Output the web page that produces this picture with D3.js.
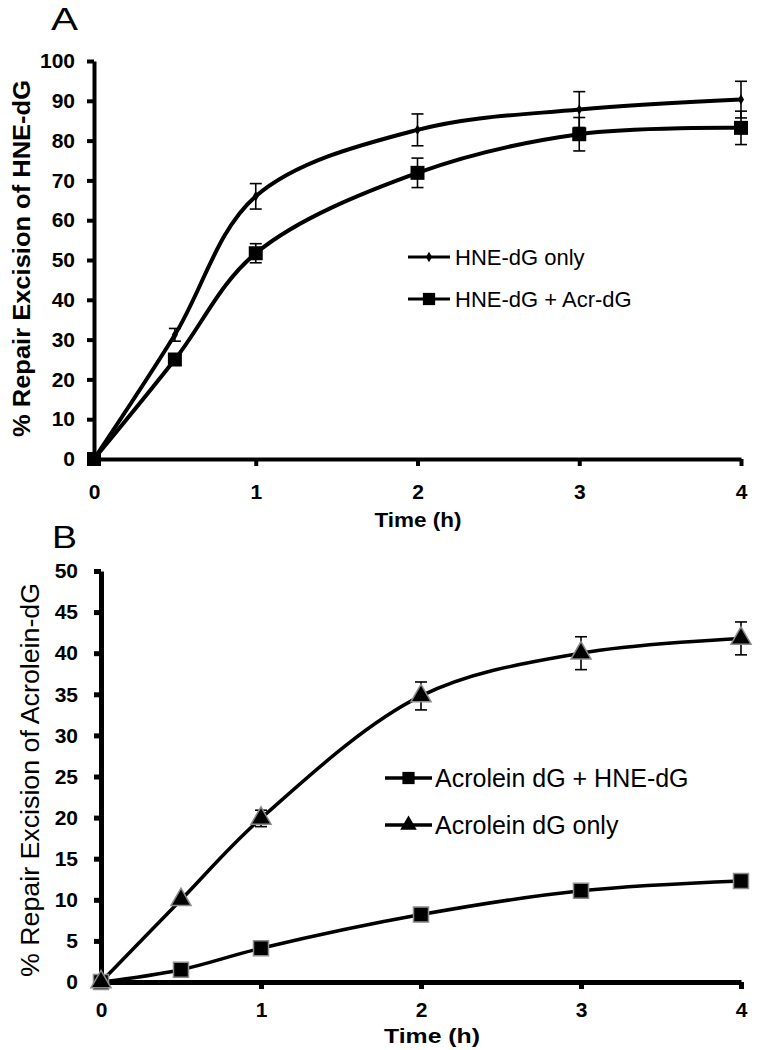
<!DOCTYPE html>
<html><head><meta charset="utf-8">
<script src="https://cdn.jsdelivr.net/npm/d3@7"></script>
<style>
body{margin:0;background:#fff;}
text{font-family:"Liberation Sans",Arial,Helvetica,sans-serif;}
</style></head>
<body>
<svg id="c" width="760" height="1050"></svg>
<script>
// ---------- data ----------
const time = [0, 0.5, 1, 2, 3, 4];
const xTicks = [0, 1, 2, 3, 4];

// Panel A
const hneOnly = [0, 31.2, 66, 82.7, 87.8, 90.3];
const hneOnlyErr = [0, 1.6, 3.2, 4.0, 4.5, 4.6];
const hneAcr = [0, 25, 51.7, 71.9, 81.6, 83.2];
const hneAcrErr = [0, 0.6, 2.4, 3.7, 4.2, 4.2];
const yTicksA = [0, 10, 20, 30, 40, 50, 60, 70, 80, 90, 100];

// Panel B
const acrHne = [0, 1.5, 4.1, 8.2, 11.1, 12.3];
const acrHneErr = [0, 0, 0, 0, 0, 0];
const acrOnly = [0, 10, 19.9, 34.8, 40, 41.8];
const acrOnlyErr = [0, 0, 1.0, 1.7, 2.0, 2.0];
const yTicksB = [0, 5, 10, 15, 20, 25, 30, 35, 40, 45, 50];

const labelsA = ["HNE-dG only", "HNE-dG + Acr-dG"];
const labelsB = ["Acrolein dG + HNE-dG", "Acrolein dG only"];

// ---------- drawing ----------
const svg = d3.select("#c");
const curve = d3.curveCatmullRom.alpha(0.5);
const fmt = d3.format("d");

function drawAxes(g, x, y, yTicks, o) {
  const ya = d3.axisLeft(y).tickValues(yTicks).tickFormat(fmt).tickSize(7).tickSizeOuter(0).tickPadding(o.yPad);
  const xa = d3.axisBottom(x).tickValues(xTicks).tickFormat(fmt).tickSize(7).tickSizeOuter(0).tickPadding(o.xPad);
  const gy = g.append("g").attr("transform", `translate(${x(0)},0)`).call(ya);
  const gx = g.append("g").attr("transform", `translate(0,${y(0)})`).call(xa);
  [gy, gx].forEach(a => {
    a.attr("font-size", o.fs);
    a.selectAll("path.domain").attr("stroke", "#000").attr("stroke-width", o.sw);
    a.selectAll(".tick line").attr("stroke", "#000").attr("stroke-width", o.sw);
    a.selectAll(".tick text").attr("fill", "#000").attr("font-size", o.fs)
      .attr("font-weight", "bold").style("font-family", '"Liberation Sans",Arial,sans-serif');
  });
}

function errBars(g, x, y, vals, errs, cap) {
  const d = time.map((t, i) => ({t, v: vals[i], e: errs[i]})).filter(p => p.e > 0);
  const eg = g.append("g").attr("stroke", "#000").attr("stroke-width", 1.6).attr("fill", "none");
  eg.selectAll("line.v").data(d).join("line")
    .attr("x1", p => x(p.t)).attr("x2", p => x(p.t))
    .attr("y1", p => y(p.v + p.e)).attr("y2", p => y(p.v - p.e));
  eg.selectAll("line.t").data(d).join("line")
    .attr("x1", p => x(p.t) - cap).attr("x2", p => x(p.t) + cap)
    .attr("y1", p => y(p.v + p.e)).attr("y2", p => y(p.v + p.e));
  eg.selectAll("line.b").data(d).join("line")
    .attr("x1", p => x(p.t) - cap).attr("x2", p => x(p.t) + cap)
    .attr("y1", p => y(p.v - p.e)).attr("y2", p => y(p.v - p.e));
}

function series(g, x, y, vals, lw) {
  const line = d3.line().x((d, i) => x(time[i])).y(d => y(d)).curve(curve);
  g.append("path").datum(vals).attr("d", line).attr("fill", "none")
    .attr("stroke", "#000").attr("stroke-width", lw).attr("stroke-linejoin", "round");
}

function markers(g, x, y, vals, type, size, stroke) {
  g.append("g").selectAll("path").data(vals).join("path")
    .attr("transform", (d, i) => `translate(${x(time[i])},${y(d)})`)
    .attr("d", d3.symbol().type(type).size(size))
    .attr("fill", "#000").attr("stroke", stroke || "none").attr("stroke-width", stroke ? 1.5 : 0);
}

function legendRow(g, x1, x2, yy, type, size, stroke, label, fs, tx, lw) {
  g.append("line").attr("x1", x1).attr("x2", x2).attr("y1", yy).attr("y2", yy)
    .attr("stroke", "#000").attr("stroke-width", lw);
  g.append("path").attr("transform", `translate(${(x1 + x2) / 2},${yy})`)
    .attr("d", d3.symbol().type(type).size(size))
    .attr("fill", "#000").attr("stroke", stroke || "none").attr("stroke-width", stroke ? 1.5 : 0);
  g.append("text").attr("x", tx).attr("y", yy).attr("dy", "0.36em")
    .attr("font-size", fs).attr("fill", "#000").text(label);
}

// ---------- Panel A ----------
{
  const g = svg.append("g");
  const x = d3.scaleLinear().domain([0, 4]).range([94, 741]);
  const y = d3.scaleLinear().domain([0, 100]).range([459, 61]);

  g.append("text").attr("x", 51).attr("y", 30).attr("font-size", 32).attr("fill", "#000")
    .attr("textLength", 27).attr("lengthAdjust", "spacingAndGlyphs").text("A");

  series(g, x, y, hneOnly, 4);
  series(g, x, y, hneAcr, 4);
  errBars(g, x, y, hneOnly, hneOnlyErr, 6);
  errBars(g, x, y, hneAcr, hneAcrErr, 6);
  drawAxes(g, x, y, yTicksA, {yPad: 12, xPad: 18, sw: 4, fs: 21});
  markers(g, x, y, hneOnly, d3.symbolDiamond, 32);
  markers(g, x, y, hneAcr, d3.symbolSquare, 196);

  g.append("text").attr("transform", `translate(30,${(80 + 437) / 2}) rotate(-90)`)
    .attr("text-anchor", "middle").attr("font-size", 23).attr("font-weight", "bold")
    .attr("textLength", 357).attr("lengthAdjust", "spacingAndGlyphs")
    .text("% Repair Excision of HNE-dG");
  g.append("text").attr("x", 418).attr("y", 527).attr("text-anchor", "middle")
    .attr("font-size", 21).attr("font-weight", "bold")
    .attr("textLength", 87).attr("lengthAdjust", "spacingAndGlyphs").text("Time (h)");

  legendRow(g, 408, 450, 257, d3.symbolDiamond, 32, null, labelsA[0], 22, 455, 3);
  legendRow(g, 408, 450, 299, d3.symbolSquare, 150, null, labelsA[1], 22, 455, 3);
}

// ---------- Panel B ----------
{
  const g = svg.append("g");
  const x = d3.scaleLinear().domain([0, 4]).range([101, 741]);
  const y = d3.scaleLinear().domain([0, 50]).range([982, 571]);

  g.append("text").attr("x", 52).attr("y", 548).attr("font-size", 32).attr("fill", "#000")
    .attr("textLength", 25).attr("lengthAdjust", "spacingAndGlyphs").text("B");

  series(g, x, y, acrHne, 3.5);
  series(g, x, y, acrOnly, 3.5);
  errBars(g, x, y, acrHne, acrHneErr, 6);
  errBars(g, x, y, acrOnly, acrOnlyErr, 6);
  drawAxes(g, x, y, yTicksB, {yPad: 16, xPad: 13, sw: 5, fs: 21});
  markers(g, x, y, acrHne, d3.symbolSquare, 225, "#8c8c8c");
  markers(g, x, y, acrOnly, d3.symbolTriangle, 175, "#8c8c8c");

  g.append("text").attr("transform", `translate(39,${(583 + 977) / 2}) rotate(-90)`)
    .attr("text-anchor", "middle").attr("font-size", 26)
    .attr("textLength", 394).attr("lengthAdjust", "spacingAndGlyphs")
    .text("% Repair Excision of Acrolein-dG");
  g.append("text").attr("x", 432).attr("y", 1043).attr("text-anchor", "middle")
    .attr("font-size", 21).attr("font-weight", "bold")
    .attr("textLength", 96).attr("lengthAdjust", "spacingAndGlyphs").text("Time (h)");

  legendRow(g, 385, 432, 778, d3.symbolSquare, 150, null, labelsB[0], 25, 435, 3.5);
  legendRow(g, 385, 432, 825, d3.symbolTriangle, 120, null, labelsB[1], 25, 435, 3.5);
}
</script>
</body></html>
